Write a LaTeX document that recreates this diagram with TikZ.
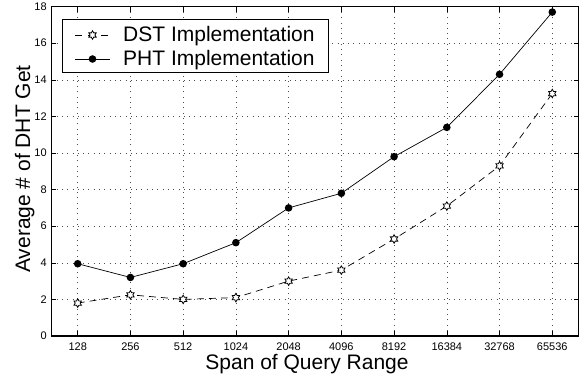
\documentclass[tikz,border=0pt]{standalone}
\usepackage{fontspec}
\setmainfont{Liberation Sans}
\usetikzlibrary{shapes.geometric,calc}
\begin{document}
\begin{tikzpicture}[x=1pt,y=-1pt,
  gridline/.style={black!70, line width=0.6pt, dash pattern=on 0.8pt off 4.5pt},
  frame/.style={black, line width=1.2pt},
  tickmark/.style={black, line width=0.6pt},
  ticklab/.style={font=\fontsize{11}{12}\selectfont, inner sep=0pt},
  axlabel/.style={font=\fontsize{21}{24}\selectfont, inner sep=0pt},
  dstline/.style={black, line width=0.7pt, dash pattern=on 7pt off 5pt},
  phtline/.style={black, line width=0.7pt},
  dstmark/.style={star, star points=6, star point ratio=1.732, draw=black, fill=white,
                  line width=0.8pt, minimum size=8.5pt, inner sep=0pt},
  phtmark/.style={circle, fill=black, minimum size=7.6pt, inner sep=0pt},
]
\useasboundingbox (0,0) rectangle (586,378);

% plot area: column index 1..10 across, value 0..18 up
\begin{scope}[shift={(24.97,336)}, x=52.73pt, y=18.3pt]
  % dotted grid
  \foreach \i in {1,...,10}
    \draw[gridline] (\i,0) -- (\i,18);
  \foreach \v in {2,4,...,16}
    \draw[gridline] (0.5,\v) -- (10.5,\v);
  % inward tick marks
  \foreach \i in {1,...,10} {
    \draw[tickmark] (\i,0) -- ++(0,0.27);
    \draw[tickmark] (\i,18) -- ++(0,-0.27);
  }
  \foreach \v in {0,2,...,18} {
    \draw[tickmark] (0.5,\v) -- ++(0.095,0);
    \draw[tickmark] (10.5,\v) -- ++(-0.095,0);
  }
  % axes box
  \draw[frame] (0.5,0) rectangle (10.5,18);
  % tick labels
  \foreach \t [count=\i] in {128,256,512,1024,2048,4096,8192,16384,32768,65536}
    \node[ticklab, anchor=north, yshift=-6.4pt] (xt\i) at (\i,0) {\t};
  \foreach \v in {0,2,...,18}
    \node[ticklab, anchor=east, xshift=-4.4pt] (yt\v) at (0.5,\v) {\v};

  % data
  \foreach \v [count=\i] in {1.8,2.25,2.0,2.1,3.0,3.6,5.3,7.1,9.3,13.25}
    \coordinate (d\i) at (\i,\v);
  \foreach \v [count=\i] in {3.95,3.2,3.95,5.1,7.0,7.8,9.8,11.4,14.3,17.7}
    \coordinate (p\i) at (\i,\v);

  \draw[dstline] (d1) \foreach \i in {2,...,10} { -- (d\i) };
  \draw[phtline] (p1) \foreach \i in {2,...,10} { -- (p\i) };
  \foreach \i in {1,...,10} {
    \node[dstmark] (dm\i) at (d\i) {};
    \node[phtmark] (pm\i) at (p\i) {};
  }
\end{scope}

% axis titles
\node[axlabel, anchor=base] (xlabel) at (307,369.3) {Span of Query Range};
\node[axlabel, anchor=base, rotate=90] (ylabel) at (30,169) {Average \# of DHT Get};

% legend
\node[draw=black, line width=1pt, fill=white, minimum width=266pt, minimum height=53.3pt,
      inner sep=0pt, anchor=north west] (legend) at (62.3,19) {};
\coordinate (ls1a) at (75,35);
\coordinate (ls1b) at (110,35);
\coordinate (ls2a) at (75,59);
\coordinate (ls2b) at (110,59);
\draw[dstline, dash pattern=on 7pt off 6pt] (ls1a) -- (ls1b);
\node[dstmark] (legdm) at ($(ls1a)!0.5!(ls1b)$) {};
\draw[phtline] (ls2a) -- (ls2b);
\node[phtmark] (legpm) at ($(ls2a)!0.5!(ls2b)$) {};
\node[axlabel, anchor=base west] (dstlab) at (123,41.7) {DST Implementation};
\node[axlabel, anchor=base west] (phtlab) at (123,65.7) {PHT Implementation};
\end{tikzpicture}
\end{document}
